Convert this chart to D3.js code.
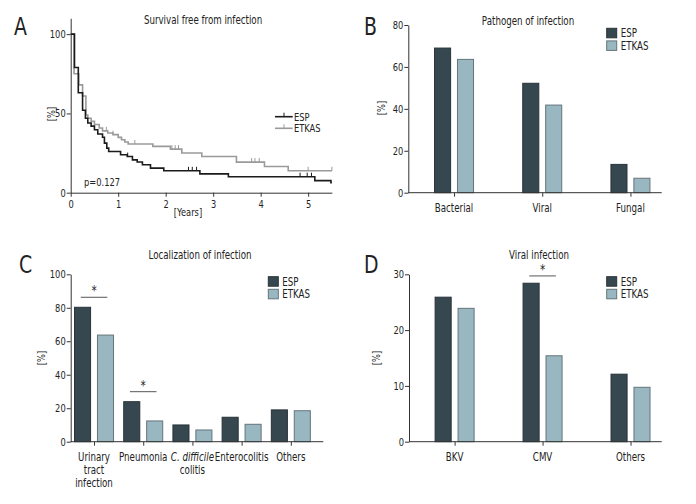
<!DOCTYPE html>
<html>
<head>
<meta charset="utf-8">
<script src="https://cdn.jsdelivr.net/npm/d3@7"></script>
<style>
    body { margin: 0; background: #fff; }
    svg { display: block; font-family: "DejaVu Sans", sans-serif; font-stretch: condensed; }
    .domain, .tick line { stroke: #333; }
    .tick text { fill: #222; font-size: 11px; font-family: "DejaVu Sans", sans-serif; font-stretch: condensed; }
</style>
</head>
<body>
<svg id="chart" width="696" height="504"></svg>
<script>
/*
    Data
*/
const groups = ["ESP", "ETKAS"];

// A: Kaplan-Meier steps [years, %]
const espSteps = [[0, 100], [0.08, 79], [0.16, 63], [0.25, 52], [0.31, 47], [0.36, 44], [0.43, 42], [0.50, 39.7],
    [0.57, 37], [0.67, 35], [0.71, 31.3], [0.76, 28.1], [0.80, 26], [1.05, 23.9], [1.19, 22.8], [1.30, 20.7],
    [1.40, 19.4], [1.51, 17.6], [1.68, 15.5], [1.96, 13.8], [2.72, 11.9], [3.32, 10.1], [5.14, 7.6], [5.48, 6.3]];
const etkasSteps = [[0, 100], [0.07, 75], [0.17, 68], [0.25, 61], [0.32, 49], [0.36, 47], [0.43, 45], [0.50, 43],
    [0.60, 40.8], [0.67, 39], [0.78, 37.7], [0.89, 36.6], [1.0, 34.9], [1.07, 33.4], [1.14, 32], [1.21, 30.7],
    [1.73, 29.2], [2.1, 27.5], [2.34, 25], [2.76, 22.8], [3.49, 19.3], [4.08, 16.5], [4.58, 13.8]];
const espCensor = [1.2, 2.48, 2.56, 2.65, 4.83, 4.98, 5.07];
const etkasCensor = [0.75, 0.89, 1.35, 2.13, 2.2, 2.27, 3.81, 3.88, 3.97, 5.0, 5.5];
const survEnd = 5.5;
const yearTicks = [0, 1, 2, 3, 4, 5];
const survTicks = [0, 50, 100];

// B: pathogen
const pathogens = ["Bacterial", "Viral", "Fungal"];
const pathogenEsp = [69, 52.2, 13.5];
const pathogenEtkas = [63.6, 41.8, 6.9];
const pathogenTicks = [0, 20, 40, 60, 80];

// C: localization
const sites = ["Urinary tract infection", "Pneumonia", "C. difficile colitis", "Enterocolitis", "Others"];
const siteLines = [["Urinary", "tract", "infection"], ["Pneumonia"], ["C. difficile", "colitis"], ["Enterocolitis"], ["Others"]];
const siteEsp = [80.3, 23.9, 10, 14.6, 19];
const siteEtkas = [63.7, 12.4, 7, 10.4, 18.5];
const siteTicks = [0, 20, 40, 60, 80, 100];
const siteSig = ["Urinary tract infection", "Pneumonia"];

// D: viral
const viruses = ["BKV", "CMV", "Others"];
const virusEsp = [25.9, 28.4, 12.1];
const virusEtkas = [23.9, 15.4, 9.75];
const virusTicks = [0, 10, 20, 30];
const virusSig = ["CMV"];

const fills = { "ESP": "#37474f", "ETKAS": "#98b7c0" };
const strokes = { "ESP": "#283237", "ETKAS": "#66747a" };
const squeeze = 0.84; // mimic the condensed face of the original

const svg = d3.select("#chart");

function label(x, y, txt, size, anchor) {
    return svg.append("text")
        .attr("transform", `translate(${x},${y}) scale(${squeeze},1)`)
        .attr("text-anchor", anchor || "middle")
        .style("font-size", size + "px")
        .attr("fill", "#222")
        .text(txt);
}

function yLabel(x, y) {
    svg.append("text")
        .attr("transform", `translate(${x},${y}) rotate(-90) scale(${squeeze},1)`)
        .attr("text-anchor", "middle")
        .attr("dominant-baseline", "middle")
        .style("font-size", "11px")
        .attr("fill", "#222")
        .text("[%]");
}

function squeezeTicks(g) {
    g.selectAll(".tick text").attr("transform", `scale(${squeeze},1)`);
}

/*
    Panel A
*/
function drawSurvival() {
    const x = d3.scaleLinear().domain([0, survEnd]).range([70.7, 331.9]);
    const y = d3.scaleLinear().domain([0, 110]).range([192.7, 18.3]);

    svg.append("g").attr("transform", "translate(0,192.7)")
        .call(d3.axisBottom(x).tickValues(yearTicks).tickFormat(d3.format("d")).tickSize(4).tickSizeOuter(0))
        .call(squeezeTicks);
    svg.append("g").attr("transform", "translate(70.7,0)")
        .call(d3.axisLeft(y).tickValues(survTicks).tickSize(4).tickPadding(2).tickSizeOuter(0))
        .call(squeezeTicks);

    const line = d3.line().x(d => x(d[0])).y(d => y(d[1])).curve(d3.curveStepAfter);
    const series = [
        { name: "ESP", steps: espSteps, censor: espCensor, color: "#1b1b1b" },
        { name: "ETKAS", steps: etkasSteps, censor: etkasCensor, color: "#9a9a9a" }
    ];
    // ETKAS underneath
    series.slice().reverse().forEach(s => {
        const pts = s.steps.concat([[survEnd, s.steps[s.steps.length - 1][1]]]);
        svg.append("path").datum(pts)
            .attr("d", line)
            .attr("fill", "none")
            .attr("stroke", s.color)
            .attr("stroke-width", 1.6);
        const valueAt = t => s.steps.filter(p => p[0] <= t).pop()[1];
        svg.selectAll(null).data(s.censor).enter().append("line")
            .attr("x1", d => x(d)).attr("x2", d => x(d))
            .attr("y1", d => y(valueAt(d))).attr("y2", d => y(valueAt(d)) - 4)
            .attr("stroke", s.color).attr("stroke-width", 1);
    });

    // Legend
    series.forEach((s, i) => {
        const ly = 116.7 + i * 11.6;
        svg.append("line").attr("x1", 275).attr("x2", 292.7).attr("y1", ly).attr("y2", ly)
            .attr("stroke", s.color).attr("stroke-width", 1.6);
        svg.append("line").attr("x1", 284).attr("x2", 284).attr("y1", ly).attr("y2", ly - 4)
            .attr("stroke", s.color).attr("stroke-width", 1);
        label(294, ly + 4, s.name, 11, "start");
    });

    label(203, 24, "Survival free from infection", 11.5);
    label(188, 216, "[Years]", 11);
    label(84, 186, "p=0.127", 11, "start");
    yLabel(52, 114);
    label(14, 35, "A", 25, "start");
}

/*
    Bar panels
*/
function drawBars(opts) {
    const x = d3.scalePoint().domain(opts.cats).range(opts.xRange).padding(opts.pad).align(opts.align);
    const inner = d3.scaleBand().domain(groups).range([-19.5, 19.5]).paddingInner(0.3);
    const y = d3.scaleLinear().domain([0, opts.yMax]).range(opts.yRange);

    const rows = opts.cats.map((c, i) => ({ cat: c, ESP: opts.esp[i], ETKAS: opts.etkas[i] }));
    const g = svg.append("g");
    g.selectAll("g.grp").data(rows).enter().append("g")
        .attr("transform", d => `translate(${x(d.cat)},0)`)
        .selectAll("rect")
        .data(d => groups.map(k => ({ key: k, value: d[k] })))
        .enter().append("rect")
        .attr("x", d => inner(d.key))
        .attr("width", inner.bandwidth())
        .attr("y", d => y(d.value))
        .attr("height", d => y(0) - y(d.value))
        .attr("fill", d => fills[d.key])
        .attr("stroke", d => strokes[d.key])
        .attr("stroke-width", 1);

    // Axes
    const xa = svg.append("g").attr("transform", `translate(0,${opts.yRange[0]})`)
        .call(d3.axisBottom(x).tickSize(4).tickSizeOuter(0).tickFormat(""));
    xa.select(".domain").attr("d", `M${opts.xRange[0]},0H${opts.xRange[1]}`);
    svg.append("g").attr("transform", `translate(${opts.xRange[0]},0)`)
        .call(d3.axisLeft(y).tickValues(opts.ticks).tickSize(4).tickPadding(2).tickSizeOuter(0))
        .call(squeezeTicks);

    // Category labels (multi-line)
    opts.cats.forEach((c, i) => {
        const lines = opts.lines ? opts.lines[i] : [c];
        lines.forEach((ln, j) => {
            const t = label(x(c), opts.yRange[0] + 19 + j * 13, "", 11.5);
            if (ln.startsWith("C. difficile")) {
                t.append("tspan").style("font-style", "italic").text(ln);
            } else {
                t.text(ln);
            }
        });
    });

    // Significance
    (opts.sig || []).forEach(c => {
        const i = opts.cats.indexOf(c);
        const top = Math.max(opts.esp[i], opts.etkas[i]);
        const ly = y(top) - opts.sigGap;
        svg.append("line")
            .attr("x1", x(c) - 13.3).attr("x2", x(c) + 13.3)
            .attr("y1", ly).attr("y2", ly)
            .attr("stroke", "#555").attr("stroke-width", 1);
        label(x(c), ly - 2, "*", 14);
    });

    // Legend
    groups.forEach((k, i) => {
        const ly = opts.legend[1] + i * 12.6;
        svg.append("rect").attr("x", opts.legend[0]).attr("y", ly)
            .attr("width", 10).attr("height", 9.5)
            .attr("fill", fills[k]).attr("stroke", strokes[k]);
        label(opts.legend[0] + 14, ly + 9, k, 11.5, "start");
    });

    label(opts.title[0], opts.title[1], opts.title[2], 11.5);
    yLabel(opts.yLab[0], opts.yLab[1]);
    label(opts.letter[0], opts.letter[1], opts.letter[2], 25, "start");
}

drawSurvival();

drawBars({
    cats: pathogens, esp: pathogenEsp, etkas: pathogenEtkas, ticks: pathogenTicks, yMax: 80,
    xRange: [408.3, 661.7], pad: 0.4365, align: 0.594, yRange: [192.7, 25],
    legend: [606.7, 28.3], title: [528, 25, "Pathogen of infection"], yLab: [382, 108], letter: [364, 35, "B"]
});

drawBars({
    cats: sites, lines: siteLines, esp: siteEsp, etkas: siteEtkas, ticks: siteTicks, yMax: 100,
    xRange: [70.7, 323.3], pad: 0.567, align: 0.418, yRange: [441.7, 274.3], sig: siteSig, sigGap: 10,
    legend: [268.3, 276.7], title: [200, 259, "Localization of infection"], yLab: [42, 358], letter: [19, 273, "C"]
});

drawBars({
    cats: viruses, esp: virusEsp, etkas: virusEtkas, ticks: virusTicks, yMax: 30,
    xRange: [409, 661.7], pad: 0.4365, align: 0.594, yRange: [441.7, 274.3], sig: virusSig, sigGap: 7.3,
    legend: [606.7, 276.7], title: [539, 259, "Viral infection"], yLab: [377, 358], letter: [364, 273, "D"]
});
</script>
</body>
</html>
